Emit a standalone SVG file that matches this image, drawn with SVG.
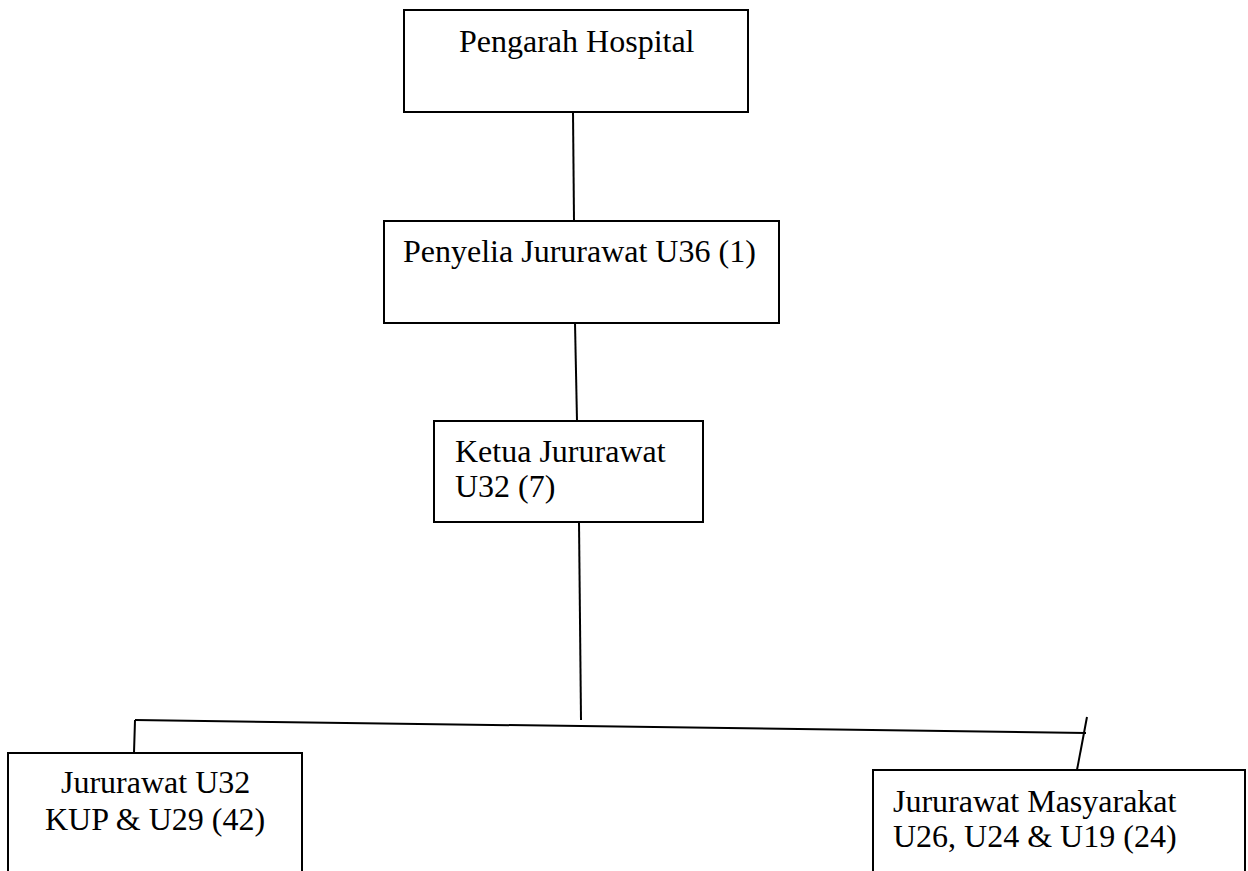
<svg xmlns="http://www.w3.org/2000/svg" width="1248" height="871" viewBox="0 0 1248 871">
  <style>
    .box { fill: #ffffff; stroke: #000000; stroke-width: 2; }
    .label { font-family: "Liberation Serif", "Times New Roman", serif; font-size: 32px; fill: #000000; }
    .link { stroke: #000000; stroke-width: 2; fill: none; }
  </style>
  <rect width="1248" height="871" fill="#ffffff"/>

  <!-- connectors -->
  <g id="connectors">
    <line class="link" x1="573" y1="112" x2="574" y2="221"/>
    <line class="link" x1="575" y1="323" x2="577" y2="421"/>
    <line class="link" x1="579" y1="522" x2="581" y2="720"/>
    <line class="link" x1="135" y1="720" x2="1086" y2="733"/>
    <line class="link" x1="135" y1="720" x2="134" y2="753"/>
    <line class="link" x1="1087" y1="717" x2="1077" y2="770"/>
  </g>

  <g id="pengarah">
    <rect class="box" x="404" y="10" width="344" height="102"/>
    <text class="label" x="459" y="52">Pengarah Hospital</text>
  </g>

  <g id="penyelia">
    <rect class="box" x="384" y="221" width="395" height="102"/>
    <text class="label" x="403" y="262">Penyelia Jururawat U36 (1)</text>
  </g>

  <g id="ketua">
    <rect class="box" x="434" y="421" width="269" height="101"/>
    <text class="label" x="455" y="462">Ketua Jururawat</text>
    <text class="label" x="455" y="497">U32 (7)</text>
  </g>

  <g id="jururawat-u32">
    <rect class="box" x="8" y="753" width="294" height="130"/>
    <text class="label" x="61" y="793">Jururawat U32</text>
    <text class="label" x="45" y="830">KUP &amp; U29 (42)</text>
  </g>

  <g id="jururawat-masyarakat">
    <rect class="box" x="873" y="770" width="372" height="120"/>
    <text class="label" x="893" y="812">Jururawat Masyarakat</text>
    <text class="label" x="893" y="847">U26, U24 &amp; U19 (24)</text>
  </g>
</svg>
